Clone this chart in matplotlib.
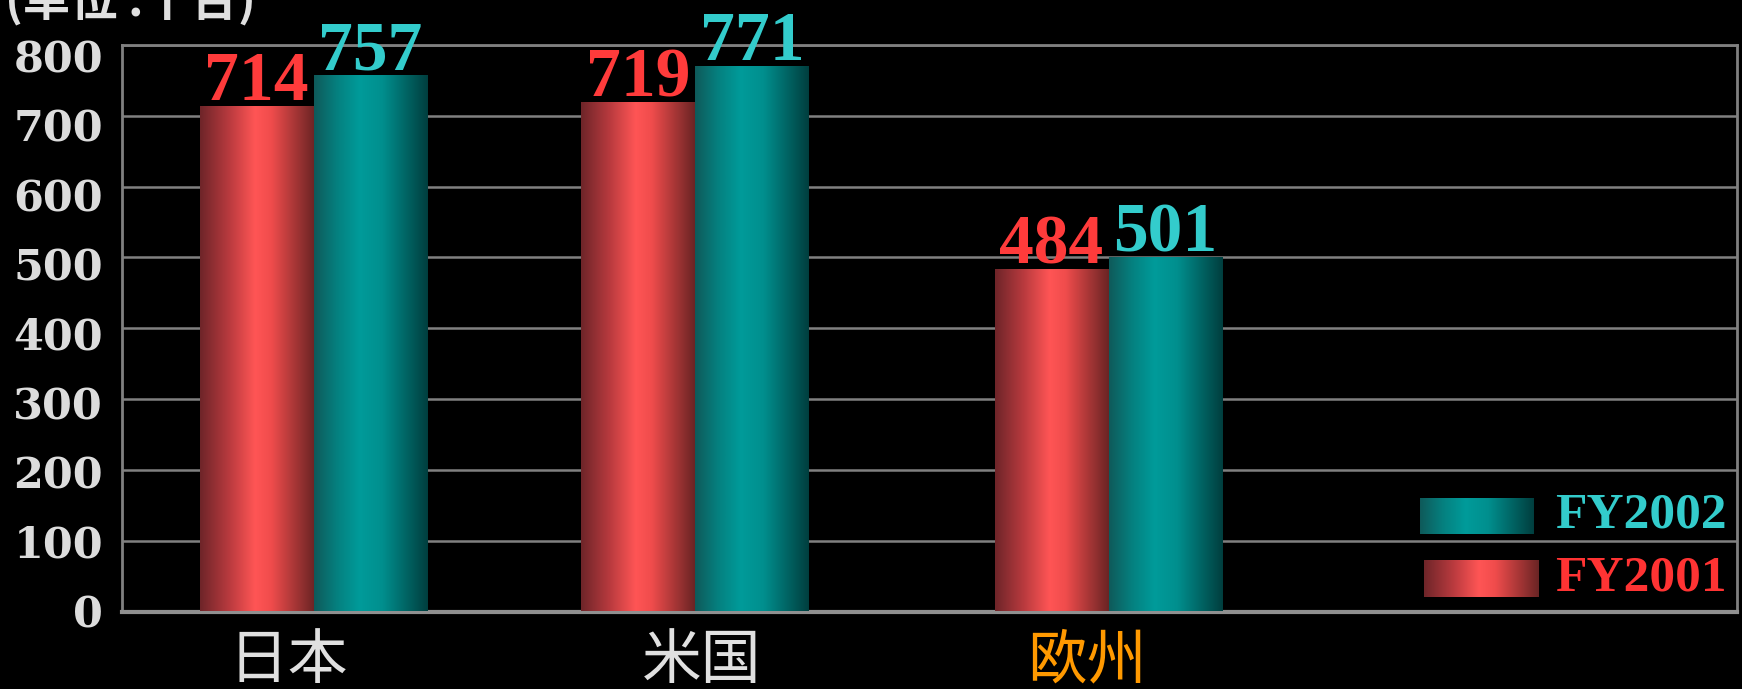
import matplotlib
matplotlib.use("Agg")
import matplotlib.pyplot as plt
import numpy as np
from matplotlib.colors import LinearSegmentedColormap
from matplotlib.transforms import ScaledTranslation, blended_transform_factory
from matplotlib.font_manager import FontProperties

# ---- data ----
categories = ["日本", "米国", "欧州"]
fy2001 = [714, 719, 484]
fy2002 = [757, 771, 501]
series_names = ["FY2001", "FY2002"]
yticks = [0, 100, 200, 300, 400, 500, 600, 700, 800]
unit_label = "(単位 :十台)"

# ---- layout (pixel-like units on x axis) ----
group_x = [191.5, 573, 986.5]
label_x = [166, 580, 965]
bar_w = 114
cat_colors = ["#e0e0e0", "#e0e0e0", "#ff9900"]

W, H = 1742, 689
fig = plt.figure(figsize=(W / 100, H / 100), dpi=100, facecolor="black")
ax = fig.add_axes([122 / W, 1 - 611.5 / H, 1615 / W, 566.5 / H])
ax.set_facecolor("black")

red_cmap = LinearSegmentedColormap.from_list(
    "r", [(0, "#6e2529"), (0.25, "#b83a3e"), (0.48, "#ff5555"), (0.62, "#f04c4c"), (1, "#6a2424")])
teal_cmap = LinearSegmentedColormap.from_list(
    "t", [(0, "#0f5a5a"), (0.2, "#05807f"), (0.4, "#009b9a"), (0.6, "#008f8e"), (1, "#003e3e")])

grad = np.linspace(0, 1, 256).reshape(1, -1)


def gradient_fill(patch, cmap, target_ax):
    x0, y0 = patch.get_x(), patch.get_y()
    w, h = patch.get_width(), patch.get_height()
    im = target_ax.imshow(grad, cmap=cmap, extent=[x0, x0 + w, y0, y0 + h],
                          aspect="auto", origin="lower", zorder=patch.get_zorder(),
                          interpolation="bicubic")
    im.set_clip_path(patch)
    patch.set_facecolor("none")
    patch.set_edgecolor("none")


xs = np.array(group_x)
bars1 = ax.bar(xs - bar_w / 2, fy2001, width=bar_w, zorder=3)
bars2 = ax.bar(xs + bar_w / 2, fy2002, width=bar_w, zorder=3)
for b in bars1:
    gradient_fill(b, red_cmap, ax)
for b in bars2:
    gradient_fill(b, teal_cmap, ax)

ax.set_xlim(0, 1615)
ax.set_ylim(0, 800)

# value labels
for bars, vals, col in ((bars1, fy2001, "#ff3b3b"), (bars2, fy2002, "#33cccc")):
    for b, v in zip(bars, vals):
        ax.annotate(str(v), (b.get_x() + b.get_width() / 2, v), xytext=(0, 4),
                    textcoords="offset points", ha="center", va="baseline",
                    color=col, fontsize=50, fontweight="bold",
                    family="Liberation Serif", zorder=5)

# grid & spines
ax.set_yticks(yticks)
ax.yaxis.grid(True, color="#808080", linewidth=1.8, zorder=1)
ax.set_axisbelow(True)
for s in ["left", "top", "right"]:
    ax.spines[s].set_color("#808080")
    ax.spines[s].set_linewidth(2)
ax.spines["bottom"].set_color("#909090")
ax.spines["bottom"].set_linewidth(3)
ax.tick_params(axis="y", length=0, labelleft=False)

# y tick labels drawn manually (slightly compressed spacing as in reference)
tick_fp = FontProperties(family="DejaVu Serif", weight="bold", size=31)
ytrans = blended_transform_factory(ax.transAxes, ax.transData)
for v in yticks:
    off = ScaledTranslation(-19 / 100, -(-1 + (v / 800) * 12) / 100, fig.dpi_scale_trans)
    ax.text(0, v, str(v), transform=ytrans + off, ha="right", va="center_baseline",
            color="#dcdcdc", fontproperties=tick_fp, clip_on=False)

ax.set_xticks(label_x)
ax.set_xticklabels(categories)
ax.tick_params(axis="x", length=0, pad=14)
for t, c in zip(ax.get_xticklabels(), cat_colors):
    t.set_family(["Noto Sans CJK JP", "DejaVu Sans"])
    t.set_fontsize(43)
    t.set_color(c)

# legend (custom, gradient swatches)
leg_items = [
    (series_names[1], teal_cmap, "#33cccc", (0.8037, 0.1368, 0.0700, 0.0636)),
    (series_names[0], red_cmap, "#ff3333", (0.8062, 0.0256, 0.0712, 0.0653)),
]
to_data = ax.transAxes + ax.transData.inverted()
for name, cmap, tc, (fx, fy, fw, fh) in leg_items:
    (dx0, dy0) = to_data.transform((fx, fy))
    (dx1, dy1) = to_data.transform((fx + fw, fy + fh))
    rect = plt.Rectangle((dx0, dy0), dx1 - dx0, dy1 - dy0, zorder=4)
    ax.add_patch(rect)
    gradient_fill(rect, cmap, ax)
    ax.text(0.8873, fy + fh / 2, name, transform=ax.transAxes, ha="left", va="center",
            color=tc, fontsize=37, fontweight="bold", family="Liberation Serif", zorder=5)

ax.set_xlim(0, 1615)
ax.set_ylim(0, 800)

fig.text(5 / W, 1 - 17 / H, unit_label, ha="left", va="baseline",
         color="#e0e0e0", fontsize=34, fontweight="bold",
         family=["Noto Sans CJK JP", "DejaVu Sans"])

fig.savefig("out.png", dpi=100, facecolor="black")
